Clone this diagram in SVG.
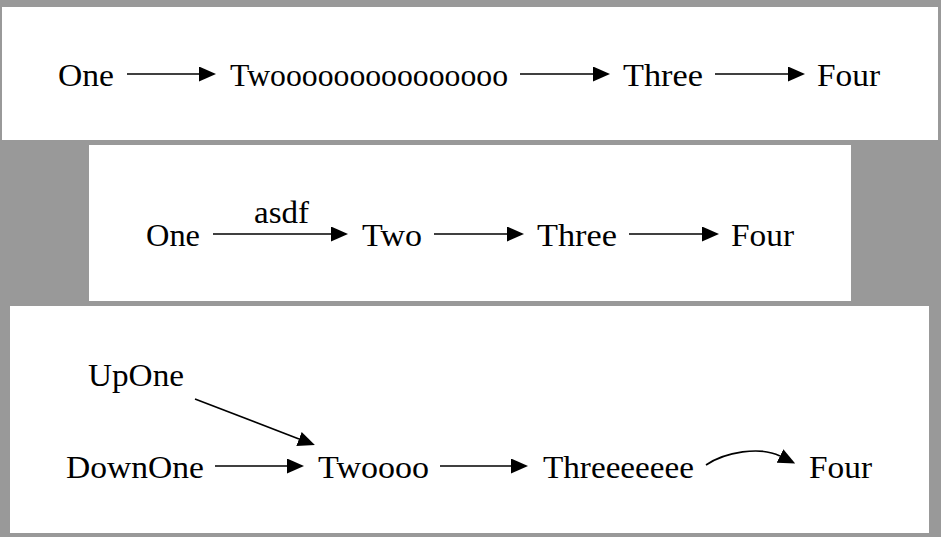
<svg xmlns="http://www.w3.org/2000/svg" width="941" height="537" viewBox="0 0 941 537">
<style>
.panel{fill:#ffffff;}
.t{font-family:"Liberation Serif","DejaVu Serif",serif;font-size:32px;fill:#000;}
.e{stroke:#000;stroke-width:1.6;fill:none;marker-end:url(#ah);}
</style>
<defs>
<marker id="ah" viewBox="0 0 17 15" refX="0" refY="7.5" markerWidth="17" markerHeight="15" markerUnits="userSpaceOnUse" orient="auto">
<path d="M0,0 L17,7.5 L0,15 z" fill="#000"/>
</marker>
</defs>
<rect x="0" y="0" width="941" height="537" fill="#999999"/>
<rect class="panel" x="2" y="7" width="936" height="133"/>
<rect class="panel" x="89" y="145" width="762" height="156"/>
<rect class="panel" x="10" y="306" width="919" height="227"/>

<g id="connectors">
<line class="e" x1="127" y1="74" x2="199" y2="74"/>
<line class="e" x1="520" y1="74" x2="593" y2="74"/>
<line class="e" x1="715" y1="74" x2="788" y2="74"/>
<line class="e" x1="213" y1="234" x2="331" y2="234"/>
<text class="t" x="254" y="223" textLength="55" lengthAdjust="spacingAndGlyphs">asdf</text>
<line class="e" x1="434" y1="234" x2="507" y2="234"/>
<line class="e" x1="629" y1="234" x2="702" y2="234"/>
<line class="e" x1="195" y1="399" x2="299" y2="439"/>
<line class="e" x1="215" y1="466" x2="287" y2="466"/>
<line class="e" x1="440" y1="466" x2="511" y2="466"/>
<path class="e" d="M706,465 C725,452 760,446 780,456"/>
</g>

<g id="r1-one"><text class="t" x="58" y="85.5" textLength="56" lengthAdjust="spacingAndGlyphs">One</text></g>
<g id="r1-two"><text class="t" x="230" y="85.5" textLength="278" lengthAdjust="spacingAndGlyphs">Tw<tspan>ooooo</tspan><tspan>ooooo</tspan><tspan>ooooo</tspan></text></g>
<g id="r1-three"><text class="t" x="623" y="85.5" textLength="80" lengthAdjust="spacingAndGlyphs">Three</text></g>
<g id="r1-four"><text class="t" x="817" y="85.5" textLength="63" lengthAdjust="spacingAndGlyphs">Four</text></g>

<g id="r2-one"><text class="t" x="146" y="245.5" textLength="54" lengthAdjust="spacingAndGlyphs">One</text></g>
<g id="r2-two"><text class="t" x="362" y="245.5" textLength="60" lengthAdjust="spacingAndGlyphs">Two</text></g>
<g id="r2-three"><text class="t" x="537" y="245.5" textLength="80" lengthAdjust="spacingAndGlyphs">Three</text></g>
<g id="r2-four"><text class="t" x="731" y="245.5" textLength="63" lengthAdjust="spacingAndGlyphs">Four</text></g>

<g id="r3-upone"><text class="t" x="88" y="385.5" textLength="96" lengthAdjust="spacingAndGlyphs">UpOne</text></g>
<g id="r3-downone"><text class="t" x="66" y="477.5" textLength="138" lengthAdjust="spacingAndGlyphs">DownOne</text></g>
<g id="r3-two"><text class="t" x="318" y="477.5" textLength="111" lengthAdjust="spacingAndGlyphs">Twoooo</text></g>
<g id="r3-three"><text class="t" x="543" y="477.5" textLength="151" lengthAdjust="spacingAndGlyphs">Threeeeeee</text></g>
<g id="r3-four"><text class="t" x="809" y="477.5" textLength="63" lengthAdjust="spacingAndGlyphs">Four</text></g>
</svg>
